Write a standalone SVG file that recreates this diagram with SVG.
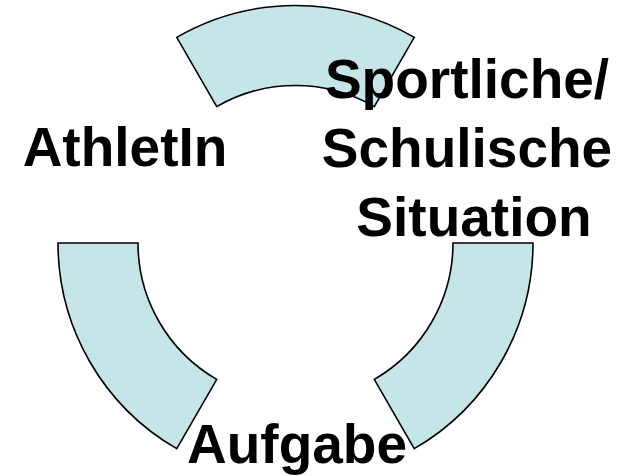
<svg xmlns="http://www.w3.org/2000/svg" width="619" height="476" viewBox="0 0 619 476">
<style>
.seg{fill:#c5e5e8;stroke:#000;stroke-width:1.6;stroke-linejoin:miter}
.lbl{font-family:"Liberation Sans",Arial,sans-serif;font-weight:bold;font-size:55px;fill:#000;text-anchor:middle}
</style>
<rect width="619" height="476" fill="#fff"/>
<g id="ring">
<g id="seg-top"><path class="seg" d="M176.75,37.32 A237.5,237.5 0 0 1 414.25,37.32 L374.25,106.6 A157.5,157.5 0 0 0 216.75,106.6 Z"/></g>
<g id="seg-left"><path class="seg" d="M58,243 L138,243 A157.5,157.5 0 0 0 216.75,379.4 L176.75,448.68 A237.5,237.5 0 0 1 58,243 Z"/></g>
<g id="seg-right"><path class="seg" d="M453,243 L533,243 A237.5,237.5 0 0 1 414.25,448.68 L374.25,379.4 A157.5,157.5 0 0 0 453,243 Z"/></g>
</g>
<g id="athletin"><text class="lbl" x="125" y="166">AthletIn</text></g>
<g id="situation-node"><text class="lbl" x="467" y="98">Sportliche/</text><text class="lbl" x="467" y="167">Schulische</text><text class="lbl" x="474" y="236">Situation</text></g>
<g id="aufgabe"><text class="lbl" x="297" y="463">Aufgabe</text></g>
</svg>
